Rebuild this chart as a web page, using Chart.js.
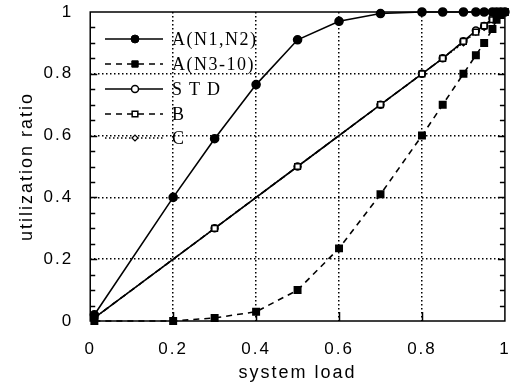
<!DOCTYPE html>
<html>
<head>
<meta charset="utf-8">
<script src="https://cdn.jsdelivr.net/npm/chart.js@4.4.0/dist/chart.umd.min.js"></script>
<style>
  html, body { margin: 0; padding: 0; background: #fff; }
  #wrap { width: 511px; height: 386px; }
</style>
</head>
<body>
<div id="wrap"><canvas id="chart"></canvas></div>
<script>
// данные
const loadA   = [0.01, 0.2, 0.3, 0.4, 0.5, 0.6, 0.7, 0.8, 0.85, 0.9, 0.93, 0.95, 0.97, 0.98, 0.99, 1.0];
const aN1N2   = [0.02, 0.40, 0.59, 0.765, 0.91, 0.97, 0.995, 1, 1, 1, 1, 1, 1, 1, 1, 1];
const aN3_10  = [0, 0, 0.01, 0.03, 0.10, 0.235, 0.41, 0.60, 0.70, 0.80, 0.86, 0.90, 0.945, 0.975, 0.99, 1.0];

const loadStd = [0.01, 0.3, 0.5, 0.7, 0.8, 0.85, 0.9, 0.93, 0.95, 0.97, 0.98, 0.99, 1.0];
const stdVals = [0.01, 0.30, 0.50, 0.70, 0.80, 0.85, 0.905, 0.94, 0.955, 0.98, 0.99, 1.0, 1.0];
const bVals   = [0.01, 0.30, 0.50, 0.70, 0.80, 0.85, 0.905, 0.935, 0.955, 0.975, 0.99, 1.0, 1.0];
const cVals   = [0.01, 0.30, 0.50, 0.70, 0.80, 0.85, 0.90, 0.935, 0.95, 0.975, 0.985, 0.995, 1.0];

const axisTicks = [0, 0.2, 0.4, 0.6, 0.8, 1];
const seriesNames = ["A(N1,N2)", "A(N3-10)", "STD", "B", "C"];

const pts = (xs, ys) => xs.map((x, i) => ({ x, y: ys[i] }));

const datasets = [
  { label: seriesNames[0], data: pts(loadA, aN1N2), borderColor: '#000', backgroundColor: '#000',
    borderWidth: 1.6, pointStyle: 'circle', pointRadius: 4, order: 0 },
  { label: seriesNames[1], data: pts(loadA, aN3_10), borderColor: '#000', backgroundColor: '#000',
    borderWidth: 1.6, borderDash: [6, 5], pointStyle: 'rect', pointRadius: 4.5, order: 1 },
  { label: seriesNames[2], data: pts(loadStd, stdVals), borderColor: '#000', backgroundColor: '#fff',
    borderWidth: 1.6, pointStyle: 'circle', pointRadius: 3.5, pointBorderWidth: 1.5, order: 3 },
  { label: seriesNames[3], data: pts(loadStd, bVals), borderColor: '#000', backgroundColor: '#fff',
    borderWidth: 1.6, borderDash: [6, 5], pointStyle: 'rect', pointRadius: 4, pointBorderWidth: 1.5, order: 2 },
  { label: seriesNames[4], data: pts(loadStd, cVals), borderColor: '#000', backgroundColor: '#fff',
    borderWidth: 1.4, borderDash: [1.5, 2.5], pointStyle: 'rectRot', pointRadius: 3, pointBorderWidth: 1.2, order: 4 }
];
datasets.forEach(d => { d.clip = false; });

// разрядка шрифта на подписях осей
const spacing = {
  id: 'spacing',
  beforeLayout(chart) { chart.ctx.letterSpacing = '2px'; },
  beforeDraw(chart) { chart.ctx.letterSpacing = '2px'; }
};

// рамка, внутренние засечки и легенда внутри поля
const decor = {
  id: 'decor',
  afterDraw(chart) {
    const { ctx, chartArea: a, scales: { x, y } } = chart;
    ctx.save();
    ctx.strokeStyle = '#000';
    ctx.lineWidth = 1.5;
    ctx.setLineDash([]);
    ctx.strokeRect(a.left, a.top, a.right - a.left, a.bottom - a.top);

    ctx.beginPath();
    for (let v = 0.05; v < 1; v += 0.05) {
      const py = Math.round(y.getPixelForValue(v)) + 0.5;
      const major = Math.abs(v * 5 - Math.round(v * 5)) < 1e-6;
      const len = major ? 7 : 5;
      ctx.moveTo(a.left, py); ctx.lineTo(a.left + len, py);
      ctx.moveTo(a.right, py); ctx.lineTo(a.right - len, py);
    }
    axisTicks.slice(1, -1).forEach(v => {
      const px = Math.round(x.getPixelForValue(v)) + 0.5;
      ctx.moveTo(px, a.bottom); ctx.lineTo(px, a.bottom - 9);
    });
    ctx.stroke();

    // легенда
    const rows = [39, 64, 89, 114, 138];
    const x0 = 105, x1 = 163, xm = 135;
    ctx.font = '18px "Liberation Serif", "DejaVu Serif", serif';
    ctx.textBaseline = 'middle';
    seriesNames.forEach((name, i) => {
      const ds = chart.data.datasets[i];
      ctx.save();
      ctx.strokeStyle = ds.borderColor;
      ctx.lineWidth = ds.borderWidth;
      ctx.setLineDash(ds.borderDash || []);
      ctx.beginPath();
      ctx.moveTo(x0, rows[i]); ctx.lineTo(x1, rows[i]);
      ctx.stroke();
      ctx.restore();
      ctx.save();
      ctx.fillStyle = ds.backgroundColor;
      ctx.strokeStyle = '#000';
      ctx.lineWidth = ds.pointBorderWidth || 1;
      Chart.helpers.drawPoint(ctx, { pointStyle: ds.pointStyle, radius: ds.pointRadius, borderWidth: ds.pointBorderWidth || 1 }, xm, rows[i]);
      ctx.restore();
      ctx.fillStyle = '#000';
      ctx.letterSpacing = name === 'STD' ? '7px' : '1.5px';
      ctx.fillText(name, 172, rows[i] + 1);
    });
    ctx.restore();
  }
};

const gridColor = c => (c.tick && (c.tick.value === 0 || c.tick.value === 1)) ? 'rgba(0,0,0,0)' : '#000';
const tickFont = { family: '"Liberation Sans", Arial, sans-serif', size: 17 };
const titleFont = { family: '"Liberation Sans", Arial, sans-serif', size: 18 };
const fmt = v => String(+v.toFixed(2));

new Chart(document.getElementById('chart'), {
  type: 'line',
  data: { datasets },
  plugins: [spacing, decor],
  options: {
    responsive: true,
    maintainAspectRatio: false,
    animation: false,
    layout: { padding: { left: 16, right: 3, top: 12, bottom: 2 } },
    plugins: { legend: { display: false }, tooltip: { enabled: false } },
    elements: { line: { tension: 0 } },
    scales: {
      x: {
        type: 'linear', min: 0, max: 1,
        afterBuildTicks: s => { s.ticks = axisTicks.map(v => ({ value: v })); },
        afterFit: s => { s.paddingLeft = 0; s.paddingRight = 0; },
        ticks: { color: '#000', font: tickFont, padding: 18, maxRotation: 0, callback: fmt },
        grid: { color: gridColor, lineWidth: 1.5, drawTicks: false },
        border: { display: false, dash: [1.5, 2.5] },
        title: { display: true, text: 'system load', color: '#000', font: titleFont, padding: { top: -15, bottom: 0 } }
      },
      y: {
        type: 'linear', min: 0, max: 1,
        afterBuildTicks: s => { s.ticks = axisTicks.map(v => ({ value: v })); },
        afterFit: s => { s.paddingTop = 0; s.paddingBottom = 0; },
        ticks: { color: '#000', font: tickFont, padding: 17, callback: fmt },
        grid: { color: gridColor, lineWidth: 1.5, drawTicks: false },
        border: { display: false, dash: [1.5, 2.5] },
        title: { display: true, text: 'utilization ratio', color: '#000', font: titleFont, padding: { top: 0, bottom: -11 } }
      }
    }
  }
});
</script>
</body>
</html>
